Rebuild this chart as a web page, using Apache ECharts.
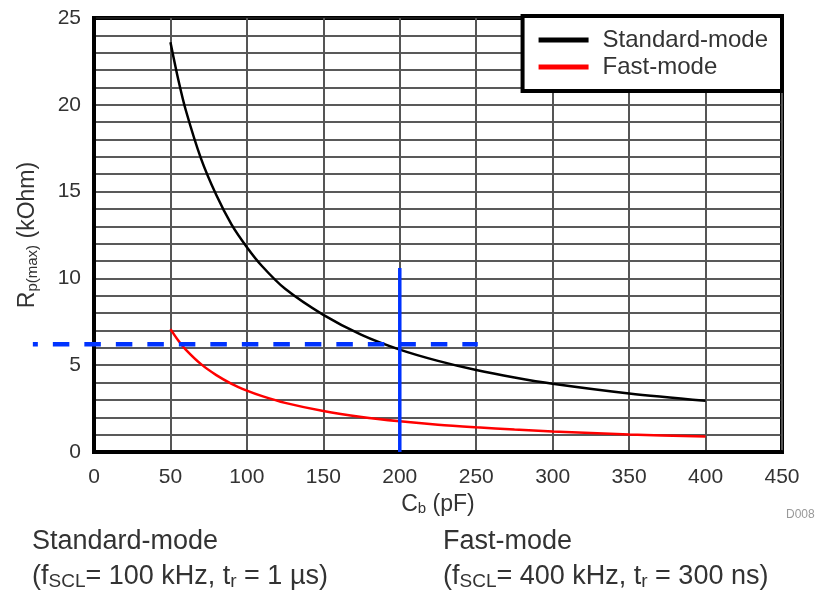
<!DOCTYPE html>
<html>
<head>
<meta charset="utf-8">
<script src="https://cdn.jsdelivr.net/npm/echarts@6/dist/echarts.min.js"></script>
<style>
  html, body { margin: 0; padding: 0; background: #fff; }
  #main { width: 832px; height: 601px; }
</style>
</head>
<body>
<div id="main"></div>
<script>
// bus capacitance (pF) and max pull-up resistance (kOhm)
const capPf = [50, 55, 60, 70, 80, 90, 100, 110, 125, 150, 175, 200, 225, 250, 275, 300, 350, 400];
const standardMode = [23.6, 21.5, 19.7, 16.9, 14.8, 13.1, 11.8, 10.7, 9.4, 7.9, 6.75, 5.9, 5.25, 4.72, 4.29, 3.93, 3.37, 2.95];
const fastMode = [7.08, 6.44, 5.9, 5.06, 4.43, 3.93, 3.54, 3.22, 2.83, 2.36, 2.02, 1.77, 1.57, 1.42, 1.29, 1.18, 1.01, 0.89];

// blue guide lines for the 200 pF example: [x1, y1, x2, y2]
const guideH = [-40, 6.2, 251, 6.2];
const guideV = [200, 0, 200, 10.6];

const font = "Arial, 'Liberation Sans', sans-serif";

function pairs(xs, ys) {
  return xs.map((x, i) => [x, ys[i]]);
}

// data -> pixel, also for points left of the x axis min
function toPx(api, x, y) {
  const xc = Math.max(0, x);
  const p = api.coord([xc, y]);
  if (x < xc) p[0] -= api.size([xc - x, 0], [xc, y])[0];
  return p;
}

function guideSeries(name, seg, dash) {
  return {
    name: name,
    type: 'custom',
    clip: false,
    silent: true,
    z: 6,
    data: [seg],
    renderItem: function (params, api) {
      const a = toPx(api, api.value(0), api.value(1));
      const b = toPx(api, api.value(2), api.value(3));
      const style = { stroke: '#0033ff', lineWidth: dash ? 4.5 : 3.5 };
      if (dash) {
        style.lineDash = [16.5, 15];
        style.lineDashOffset = 11.5;
      }
      return {
        type: 'line',
        shape: { x1: a[0], y1: a[1], x2: b[0], y2: b[1] },
        style: style
      };
    }
  };
}

const chart = echarts.init(document.getElementById('main'), null, { renderer: 'canvas' });

const subRich = {
  m: { fontSize: 23, color: '#333', fontFamily: font },
  s: { fontSize: 15, color: '#333', fontFamily: font, verticalAlign: 'bottom', padding: [9, 0, 0, 0] }
};

const noteRich = {
  m: { fontSize: 27, fill: '#333', fontFamily: font },
  s: { fontSize: 19, fill: '#333', fontFamily: font, verticalAlign: 'bottom', padding: [11, 0, 0, 0] }
};

const option = {
  animation: false,
  backgroundColor: '#fff',
  textStyle: { fontFamily: font },
  grid: {
    left: 94, right: 50, top: 18, bottom: 149,
    show: true, borderColor: '#000', borderWidth: 4, backgroundColor: 'transparent'
  },
  legend: {
    data: ['Standard-mode', 'Fast-mode'],
    orient: 'vertical',
    right: 50, top: 16,
    backgroundColor: '#fff',
    borderColor: '#000', borderWidth: 4,
    padding: [12, 14, 12, 16],
    itemGap: 3,
    itemWidth: 50, itemHeight: 5,
    icon: 'rect',
    textStyle: { fontSize: 24, color: '#333', fontFamily: font, padding: [0, 0, 0, 9] }
  },
  xAxis: {
    type: 'value',
    min: 0, max: 450, interval: 50,
    name: '{m|C}{s|b}{m| (pF)}',
    nameLocation: 'middle',
    nameGap: 34,
    nameTextStyle: { rich: subRich },
    axisLine: { show: true, lineStyle: { color: '#000', width: 4 } },
    axisTick: { show: false },
    axisLabel: { fontSize: 21, color: '#333', margin: 15, fontFamily: font },
    splitLine: { show: true, lineStyle: { color: '#555', width: 2 } }
  },
  yAxis: {
    type: 'value',
    min: 0, max: 25, interval: 5,
    name: '{m|R}{s|p(max)}{m| (kOhm)}',
    nameLocation: 'middle',
    nameGap: 54,
    nameRotate: 90,
    nameTextStyle: { rich: subRich },
    axisLine: { show: true, lineStyle: { color: '#000', width: 4 } },
    axisTick: { show: false },
    axisLabel: { fontSize: 21, color: '#333', margin: 13, fontFamily: font },
    splitLine: { show: true, lineStyle: { color: '#222', width: 1.6 } },
    minorTick: { show: false, splitNumber: 5 },
    minorSplitLine: { show: true, lineStyle: { color: '#222', width: 1.6 } }
  },
  series: [
    {
      name: 'Standard-mode',
      type: 'line',
      data: pairs(capPf, standardMode),
      smooth: 0.3,
      showSymbol: false,
      color: '#000',
      lineStyle: { color: '#000', width: 2.5 },
      z: 5
    },
    {
      name: 'Fast-mode',
      type: 'line',
      data: pairs(capPf, fastMode),
      smooth: 0.3,
      showSymbol: false,
      color: '#ff0000',
      lineStyle: { color: '#ff0000', width: 2.5 },
      z: 5
    },
    guideSeries('guide-h', guideH, true),
    guideSeries('guide-v', guideV, false)
  ],
  graphic: [
    {
      type: 'text', left: 786, top: 509,
      style: { text: 'D008', fontSize: 12, fill: '#999', fontFamily: font }
    },
    {
      type: 'text', left: 32, top: 528,
      style: { text: 'Standard-mode', fontSize: 27, fill: '#333', fontFamily: font }
    },
    {
      type: 'text', left: 32, top: 563,
      style: { text: '{m|(f}{s|SCL}{m|= 100 kHz, t}{s|r}{m| = 1 µs)}', rich: noteRich }
    },
    {
      type: 'text', left: 443, top: 528,
      style: { text: 'Fast-mode', fontSize: 27, fill: '#333', fontFamily: font }
    },
    {
      type: 'text', left: 443, top: 563,
      style: { text: '{m|(f}{s|SCL}{m|= 400 kHz, t}{s|r}{m| = 300 ns)}', rich: noteRich }
    }
  ]
};

chart.setOption(option);
</script>
</body>
</html>
